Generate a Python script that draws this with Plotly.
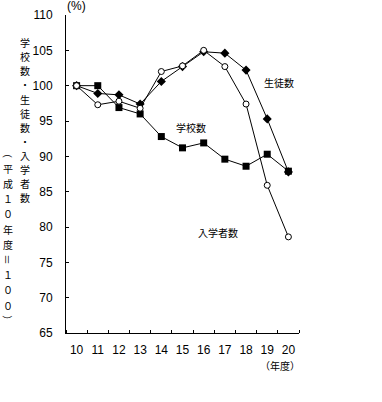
import plotly.graph_objects as go

years = [10, 11, 12, 13, 14, 15, 16, 17, 18, 19, 20]
year_labels = [str(y) for y in years]
schools = [100, 100, 96.9, 96.0, 92.8, 91.2, 91.9, 89.6, 88.6, 90.3, 87.9]
students = [100, 98.9, 98.7, 97.4, 100.6, 102.7, 104.8, 104.6, 102.2, 95.3, 87.8]
entrants = [100, 97.3, 97.8, 96.8, 102.0, 102.8, 105.0, 102.7, 97.4, 85.9, 78.6]

W, H = 382, 402
L, R, T, B = 66, 299, 15, 333  # plot area in page pixels

def px(x):
    return (x - L) / (R - L)

def py(y):
    return (B - y) / (B - T)

fig = go.Figure()
fig.add_trace(go.Scatter(x=years, y=schools, mode="lines+markers", name="学校数",
                         line=dict(color="black", width=1),
                         marker=dict(symbol="square", size=7, color="black")))
fig.add_trace(go.Scatter(x=years, y=students, mode="lines+markers", name="生徒数",
                         line=dict(color="black", width=1),
                         marker=dict(symbol="diamond", size=7, color="black")))
fig.add_trace(go.Scatter(x=years, y=entrants, mode="lines+markers", name="入学者数",
                         line=dict(color="black", width=1),
                         marker=dict(symbol="circle", size=6, color="white",
                                     line=dict(color="black", width=1))))

fig.update_layout(
    width=W, height=H,
    margin=dict(l=L, r=W - R, t=T, b=H - B, autoexpand=False),
    paper_bgcolor="white", plot_bgcolor="white",
    showlegend=False,
    font=dict(family="Liberation Sans, Arial", size=12, color="black"),
)
fig.update_xaxes(
    range=[9.5, 20.5], tickmode="array", tickvals=years, ticktext=year_labels,
    ticks="", showline=True, linecolor="black", linewidth=1, showgrid=False,
    zeroline=False, automargin=False, ticklabelstandoff=6,
    minor=dict(tickmode="linear", tick0=10.5, dtick=1, ticks="inside",
               ticklen=3, tickcolor="black", showgrid=False),
)
fig.update_yaxes(
    range=[65, 110], dtick=5, ticks="inside", ticklen=3, tickcolor="black",
    showline=True, linecolor="black", linewidth=1, showgrid=False,
    zeroline=False, automargin=False, ticklabelstandoff=10,
)

cjk = "Noto Sans CJK JP"
ann = []

def add(text, x, y, size=10, family=cjk, rot=0):
    ann.append(dict(text=text, x=px(x), y=py(y), xref="paper", yref="paper",
                    xanchor="center", yanchor="middle", showarrow=False,
                    borderpad=0, textangle=rot, font=dict(family=family, size=size)))

# series labels
add("生徒数", 279, 83)
add("学校数", 191, 127)
add("入学者数", 218, 232)
add("(%)", 76, 6, size=12, family="Liberation Sans")
add("（年度）", 280, 365)
# vertical axis title columns
col1 = "学校数・生徒数・入学者数"
col2 = "（平成１０年度＝１００）"
for i, ch in enumerate(col1):
    add(ch, 25, 43 + i * 14)
for i, ch in enumerate(col2):
    add(ch, 8, 153 + i * 15.2, rot=90 if ch in "（）＝" else 0)
fig.update_layout(annotations=ann)

fig.write_html("out.html", config={"displayModeBar": False},
               post_script="document.body.style.margin='0';document.body.style.padding='0';")
